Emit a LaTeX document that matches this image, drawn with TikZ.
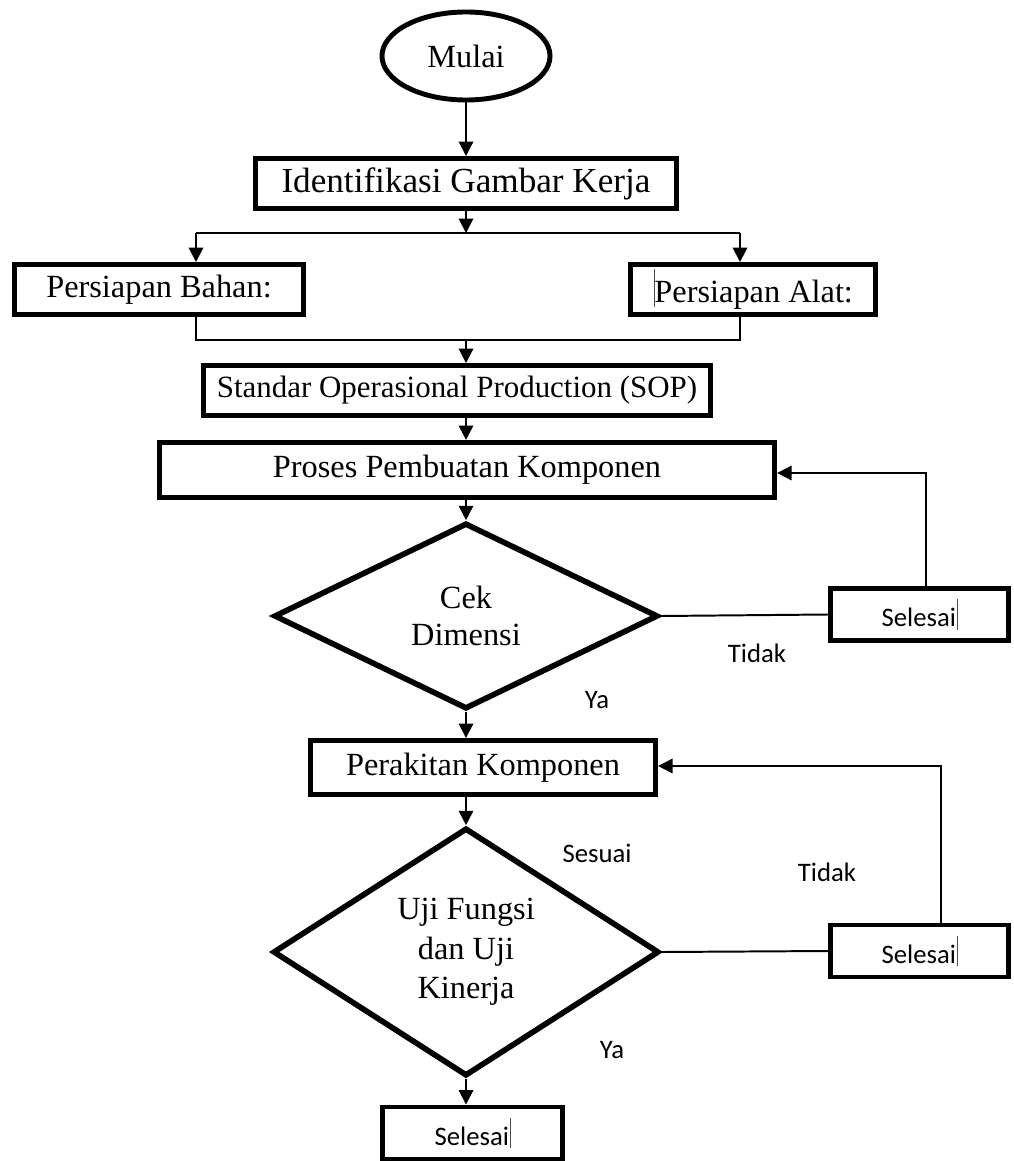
\documentclass[tikz,border=0pt]{standalone}
\usepackage{fontspec}
\setmainfont{Liberation Serif}
\newfontfamily\calibri{Carlito}
\usetikzlibrary{shapes,arrows,positioning,calc,arrows.meta}

\newcommand{\kursor}{\kern0.5pt\textcolor{black!70}{\rule[-0.12em]{0.5pt}{1.15em}}}

\begin{document}
\begin{tikzpicture}[x=0.025cm, y=-0.025cm,
    kotak/.style={draw, line width=3.5pt, rectangle, inner sep=0pt, minimum height=1.25cm, font=\fontsize{23}{27}\selectfont},
    keputusan/.style={draw, line width=4pt, diamond, inner sep=0pt, align=center, font=\fontsize{23}{26}\selectfont},
    selesai/.style={kotak, minimum width=4.45cm, minimum height=1.3cm, font=\calibri\fontsize{19}{22}\selectfont},
    ket/.style={font=\calibri\fontsize{19}{22}\selectfont},
    panah/.style={line width=1.4pt, -{Triangle[length=0.36cm,width=0.36cm]}},
    garis/.style={line width=1.4pt}]
    \useasboundingbox (0,0) rectangle (1013,1161);

    % langkah utama
    \node[draw, ellipse, line width=3.5pt, inner sep=0pt, minimum width=4.2cm, minimum height=2.2cm, font=\fontsize{23}{27}\selectfont] (mulai) at (466,56) {Mulai};
    \node[kotak, minimum width=10.53cm, font=\fontsize{25}{29}\selectfont] (ident) at (466,183.5) {Identifikasi Gambar Kerja};
    \node[kotak, minimum width=7.23cm] (bahan) at (159,289.5) {Persiapan Bahan:};
    \node[kotak, minimum width=6.13cm] (alat) at (753,289.5) {\kursor Persiapan Alat:};
    \node[kotak, minimum width=12.68cm, font=\fontsize{22}{26}\selectfont] (sop) at (457,390.5) {Standar Operasional Production (SOP)};
    \node[kotak, minimum width=15.38cm, minimum height=1.38cm] (proses) at (467,470) {Proses Pembuatan Komponen};
    \node[keputusan, minimum width=9.6cm, minimum height=4.65cm] (cek) at (466,616) {Cek\\Dimensi};
    \node[selesai] (selesaiA) at (919.5,614.5) {Selesai\kursor};
    \node[kotak, minimum width=8.63cm, minimum height=1.35cm] (rakit) at (483,767.5) {Perakitan Komponen};
    \node[keputusan, minimum width=9.65cm, minimum height=6.2cm, font=\fontsize{23}{28}\selectfont] (uji) at (466,952) {Uji Fungsi\\dan Uji\\Kinerja};
    \node[selesai] (selesaiB) at (919.5,951) {Selesai\kursor};
    \node[selesai, minimum width=4.5cm] (selesaiC) at (472.5,1133) {Selesai\kursor};

    % keterangan
    \node[ket] (tidakA) at (757,653) {Tidak};
    \node[ket] (yaA) at (597,700) {Ya};
    \node[ket] (sesuai) at (597,853) {Sesuai};
    \node[ket] (tidakB) at (827,872) {Tidak};
    \node[ket] (yaB) at (612,1050) {Ya};

    % percabangan bahan dan alat
    \coordinate (pecah) at (466,233);
    \coordinate (pecahKiri) at (196,233);
    \coordinate (pecahKanan) at (740,233);
    \coordinate (gabung) at (466,340);
    \coordinate (gabungKiri) at (196,340);
    \coordinate (gabungKanan) at (740,340);
    \draw[panah] (mulai.south) -- (ident.north);
    \draw[panah] (ident.south) -- (pecah);
    \draw[garis] (pecahKiri) -- (pecahKanan);
    \draw[panah] (pecahKiri) -- (pecahKiri |- bahan.north);
    \draw[panah] (pecahKanan) -- (pecahKanan |- alat.north);
    \draw[garis] (gabungKiri |- bahan.south) -- (gabungKiri) -- (gabungKanan) -- (gabungKanan |- alat.south);
    \draw[panah] (gabung) -- (gabung |- sop.north);
    \draw[panah] (gabung |- sop.south) -- (gabung |- proses.north);
    \draw[panah] (gabung |- proses.south) -- (cek.north);

    % cek dimensi
    \coordinate (balikA) at (926,473);
    \draw[garis] (cek.east) -- (selesaiA.west);
    \draw[panah] (balikA |- selesaiA.north) -- (balikA) -- (balikA -| proses.east);
    \draw[panah] (cek.south) -- (cek.south |- rakit.north);

    % uji fungsi
    \coordinate (balikB) at (941,766);
    \draw[panah] (cek.south |- rakit.south) -- (uji.north);
    \draw[garis] (uji.east) -- (selesaiB.west);
    \draw[panah] (balikB |- selesaiB.north) -- (balikB) -- (balikB -| rakit.east);
    \draw[panah] (uji.south) -- (uji.south |- selesaiC.north);
\end{tikzpicture}
\end{document}
